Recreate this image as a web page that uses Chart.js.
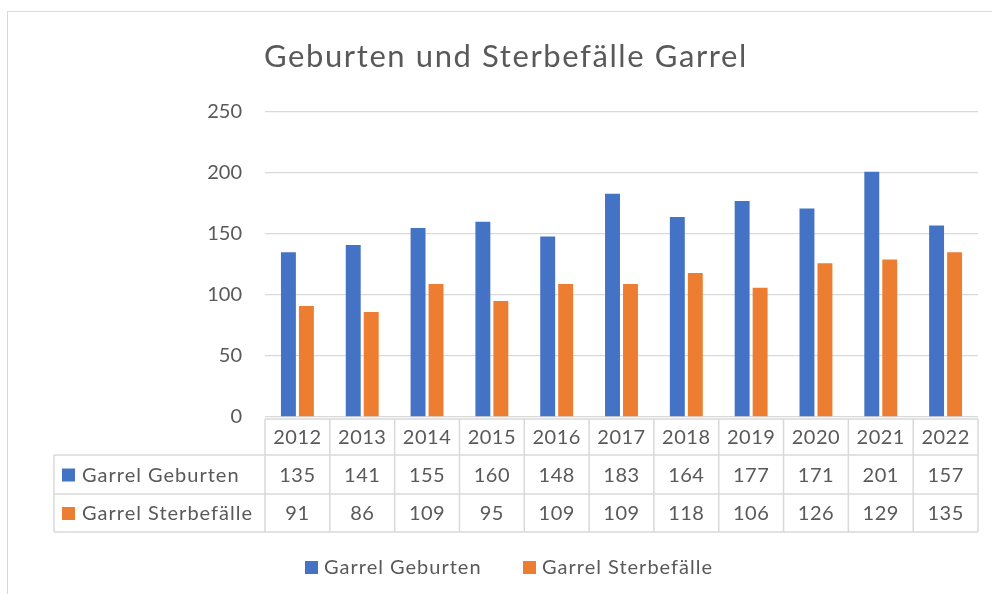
<!DOCTYPE html>
<html>
<head>
<meta charset="utf-8">
<script src="https://cdn.jsdelivr.net/npm/chart.js@4.4.1/dist/chart.umd.min.js"></script>
<style>
  html, body { margin: 0; padding: 0; background: #fff; overflow: hidden; }
  #wrap { position: relative; width: 992px; height: 594px; }
  #frame { position: absolute; left: 7px; top: 11px; width: 1100px; height: 700px; border: 1.5px solid #d9d9d9; box-sizing: border-box; }
  canvas { position: absolute; left: 0; top: 0; }
</style>
</head>
<body>
<div id="wrap">
  <div id="frame"></div>
  <canvas id="barChart" width="992" height="594"></canvas>
</div>
<script>
var chartTitle = 'Geburten und Sterbefälle Garrel';
var years = ['2012', '2013', '2014', '2015', '2016', '2017', '2018', '2019', '2020', '2021', '2022'];
var geburten = [135, 141, 155, 160, 148, 183, 164, 177, 171, 201, 157];
var sterbefaelle = [91, 86, 109, 95, 109, 109, 118, 106, 126, 129, 135];
var seriesNames = ['Garrel Geburten', 'Garrel Sterbefälle'];
var seriesColors = ['#4472C4', '#ED7D31'];

var textColor = '#595959';
var lineColor = '#d9d9d9';
var fontName = 'Lato';

// draws title, data table and legend below the plot
var tablePlugin = {
    id: 'dataTable',
    afterDraw: function (chart) {
        var ctx = chart.ctx;
        var xs = chart.scales.x;
        var area = chart.chartArea;
        var n = years.length;
        var catW = (area.right - area.left) / n;
        var top = area.bottom + 2;
        var rowH = [36, 39, 38];
        var r1 = top + rowH[0], r2 = r1 + rowH[1], r3 = r2 + rowH[2];
        var tableLeft = 54;

        ctx.save();
        // title
        ctx.fillStyle = textColor;
        ctx.font = '31px ' + fontName;
        ctx.letterSpacing = '1.6px';
        ctx.textAlign = 'left';
        ctx.textBaseline = 'alphabetic';
        ctx.fillText(chartTitle, 264, 67);

        // grid lines of the table
        ctx.strokeStyle = lineColor;
        ctx.lineWidth = 1.5;
        ctx.beginPath();
        ctx.moveTo(area.left, top); ctx.lineTo(area.right, top);
        [r1, r2, r3].forEach(function (y) {
            ctx.moveTo(tableLeft, y); ctx.lineTo(area.right, y);
        });
        ctx.moveTo(tableLeft, r1); ctx.lineTo(tableLeft, r3);
        for (var i = 0; i <= n; i++) {
            var x = (i < n) ? xs.getPixelForValue(i) - catW / 2 : area.right;
            ctx.moveTo(x, top); ctx.lineTo(x, r3);
        }
        ctx.stroke();

        // table numbers
        ctx.font = '20px ' + fontName;
        ctx.letterSpacing = '0.5px';
        ctx.textBaseline = 'middle';
        ctx.textAlign = 'center';
        var rows = [geburten, sterbefaelle];
        for (var j = 0; j < n; j++) {
            var cx = xs.getPixelForValue(j);
            ctx.fillText(years[j], cx, (top + r1) / 2 + 1);
            ctx.fillText(String(rows[0][j]), cx, (r1 + r2) / 2 + 1);
            ctx.fillText(String(rows[1][j]), cx, (r2 + r3) / 2 + 1);
        }
        // row headers
        ctx.letterSpacing = '1px';
        ctx.textAlign = 'left';
        var ys = [(r1 + r2) / 2, (r2 + r3) / 2];
        for (var k = 0; k < 2; k++) {
            ctx.fillStyle = seriesColors[k];
            ctx.fillRect(62, ys[k] - 6, 13, 13);
            ctx.fillStyle = textColor;
            ctx.fillText(seriesNames[k], 82, ys[k] + 1);
        }

        // legend
        var lx = [305, 523];
        for (var m = 0; m < 2; m++) {
            ctx.fillStyle = seriesColors[m];
            ctx.fillRect(lx[m], 561, 13, 13);
            ctx.fillStyle = textColor;
            ctx.fillText(seriesNames[m], lx[m] + 19, 568);
        }
        ctx.restore();
    }
};

var ctxB = document.getElementById('barChart').getContext('2d');
var myBarChart = new Chart(ctxB, {
    type: 'bar',
    data: {
        labels: years,
        datasets: [{
            label: seriesNames[0],
            data: geburten,
            backgroundColor: seriesColors[0],
            barPercentage: 0.83,
            categoryPercentage: 0.555
        }, {
            label: seriesNames[1],
            data: sterbefaelle,
            backgroundColor: seriesColors[1],
            barPercentage: 0.83,
            categoryPercentage: 0.555
        }]
    },
    options: {
        responsive: false,
        animation: false,
        layout: { padding: { top: 112, right: 14, bottom: 177, left: 0 } },
        plugins: {
            legend: { display: false },
            title: { display: false },
            tooltip: { enabled: false }
        },
        scales: {
            x: { display: false },
            y: {
                min: 0,
                max: 250,
                ticks: {
                    stepSize: 50,
                    color: textColor,
                    font: { family: fontName, size: 20 },
                    padding: 23
                },
                grid: { color: lineColor, lineWidth: 1.3, drawTicks: false },
                border: { display: false },
                afterFit: function (scale) { scale.width = 265; }
            }
        }
    },
    plugins: [tablePlugin]
});
</script>
</body>
</html>
